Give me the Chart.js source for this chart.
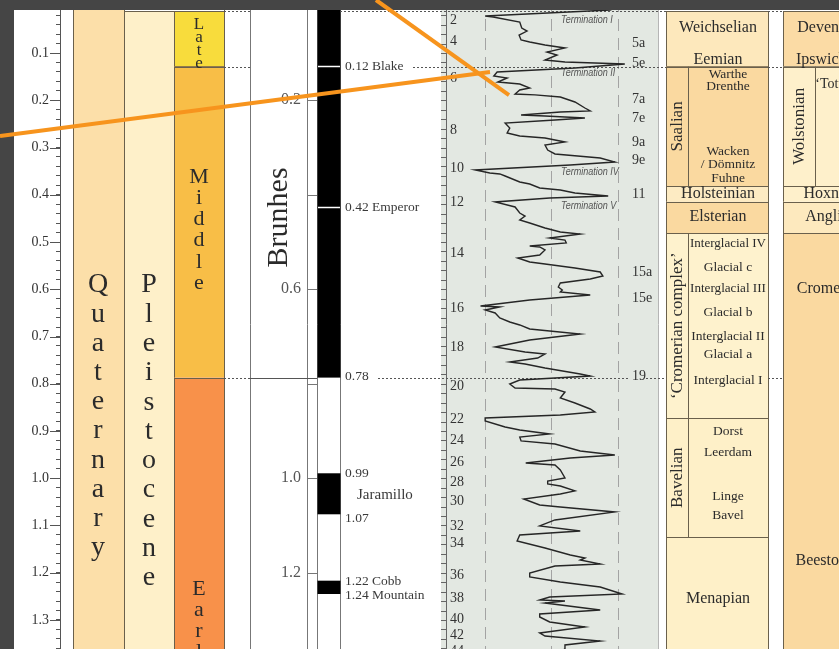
<!DOCTYPE html>
<html lang="en">
<head>
  <meta charset="UTF-8">
  <title>Middle and Early Pleistocene stratigraphy</title>
  <script src="https://cdn.jsdelivr.net/npm/chart.js"></script>
  <style>
    html, body { margin: 0; padding: 0; background: #454545; }
    canvas { display: block; }
  </style>
</head>
<body>
  <canvas id="strat" width="839" height="649"></canvas>
  <script>
    // ---- data (ages in Ma unless noted) ----
    const ageTop = -0.0122;
    const ageBottom = 1.3614;

    // Late / Middle / Early Pleistocene
    const subNames = ['Late', 'Middle', 'Early'];
    const subBounds = [0.0117, 0.129, 0.787, 1.8];

    // normal polarity intervals and excursions
    const normalTop = [ageTop, 0.9895, 1.2168];
    const normalBase = [0.787, 1.0763, 1.245];
    const excursionAges = [0.1269, 0.4265];
    const polNames = ['0.12 Blake', '0.42 Emperor', '0.78', '0.99', 'Jaramillo', '1.07', '1.22 Cobb', '1.24 Mountain'];
    const polNameAges = [0.129, 0.4266, 0.7836, 0.9895, 1.0354, 1.0848, 1.2175, 1.2486];
    const brunhesTicks = [0.2, 0.4, 0.6, 0.8, 1.0, 1.2];
    const brunhesTickLabels = ['0.2', '', '0.6', '', '1.0', '1.2'];

    // benthic d18O stack (age ka, per mil)
    const misAgeKa = [
      0, 9, 21.7, 23.8, 34.4, 47.1, 53.5, 61.9, 72.5, 76.7,
      83.1, 89.4, 97.9, 104.2, 114.8, 119.0, 123.3, 131.7, 140.2, 148.6,
      152.9, 161.4, 165.6, 174.1, 178.3, 186.8, 188.5, 193.1, 203.7, 216.4,
      222.7, 224.8, 231.2, 233.3, 237.5, 241.7, 248.1, 258.7, 269.3, 275.6,
      279.9, 288.3, 294.7, 305.3, 313.7, 322.2, 330.7, 337.0, 347.6, 353.9,
      356.0, 360.3, 373.0, 377.2, 385.7, 389.9, 396.3, 402.6, 406.9, 415.3,
      425.9, 438.6, 445.0, 453.4, 459.8, 470.4, 478.8, 483.1, 491.5, 495.8,
      502.1, 508.5, 510.6, 516.9, 527.5, 533.9, 542.3, 546.6, 555.0, 563.5,
      572.0, 578.3, 586.8, 595.2, 601.6, 605.8, 612.2, 622.7, 635.4, 637.5,
      643.9, 650.2, 660.8, 669.3, 675.6, 684.1, 688.3, 694.7, 707.4, 722.2,
      732.8, 737.0, 745.5, 754.0, 758.2, 766.7, 779.4, 783.6, 792.1, 800.5,
      809.0, 811.1, 817.5, 830.2, 840.7, 853.4, 859.8, 866.1, 872.5, 878.8,
      891.5, 897.9, 906.3, 912.7, 921.1, 927.5, 942.3, 950.8, 957.1, 967.7,
      971.9, 982.5, 999.4, 1005.8, 1012.1, 1016.4, 1026.9, 1033.3, 1043.9, 1056.6,
      1060.8, 1071.4, 1088.3, 1101.0, 1111.6, 1120.1, 1132.8, 1147.6, 1162.4, 1168.8,
      1173.0, 1181.5, 1185.7, 1200.5, 1209.0, 1219.6, 1230.2, 1245.0, 1251.3, 1257.7,
      1259.8, 1264.0, 1278.8, 1287.3, 1293.6, 1304.2, 1314.8, 1327.5, 1333.9, 1344.4,
      1352.9, 1361.3, 1370
    ];
    const misD18O = [
      2.96, 3.11, 4.99, 4.87, 4.47, 4.44, 4.36, 4.48, 4.45, 4.32,
      4.09, 3.79, 4.06, 3.91, 4.09, 3.79, 2.89, 3.64, 4.81, 4.86,
      4.66, 4.80, 4.47, 4.32, 4.47, 4.54, 4.24, 3.86, 3.64, 3.49,
      3.41, 3.86, 4.45, 4.09, 3.49, 3.94, 4.69, 4.62, 4.66, 4.47,
      4.09, 3.79, 4.09, 4.05, 3.94, 3.26, 3.04, 3.71, 5.14, 4.92,
      4.77, 4.69, 4.47, 4.32, 4.17, 3.86, 3.64, 3.14, 4.02, 4.84,
      4.54, 4.47, 4.39, 4.47, 4.32, 4.09, 3.86, 3.56, 4.02, 3.79,
      3.77, 4.32, 4.17, 4.09, 4.17, 4.50, 4.32, 4.09, 3.64, 3.26,
      3.22, 3.41, 3.86, 3.89, 3.83, 3.86, 3.41, 4.32, 5.06, 4.77,
      4.99, 4.84, 4.77, 4.62, 4.47, 4.32, 4.02, 3.56, 4.32, 4.84,
      4.39, 4.09, 4.20, 4.62, 4.39, 4.09, 3.56, 3.41, 4.47, 4.62,
      4.54, 3.94, 3.79, 3.86, 3.64, 3.41, 3.34, 3.86, 4.99, 4.99,
      4.69, 4.47, 4.02, 4.47, 4.45, 3.94, 3.56, 3.04, 3.71, 4.38,
      3.94, 3.86, 3.79, 4.05, 4.05, 3.86, 3.64, 3.86, 4.41, 4.17,
      3.86, 3.04, 3.94, 4.17, 3.56, 4.47, 4.51, 4.09, 3.71, 3.49,
      3.56, 3.26, 3.94, 4.32, 4.32, 3.86, 3.26, 2.93, 4.02, 4.17,
      3.79, 4.09, 3.26, 4.17, 4.17, 4.02, 3.49, 4.17, 4.09, 3.26,
      3.79, 3.79, 3.9
    ];
    const misGrid = [5, 4, 3];
    const misNumbers = [2, 4, 6, 8, 10, 12, 14, 16, 18, 20, 22, 24, 26, 28, 30, 32, 34, 36, 38, 40, 42, 44];
    const misNumberAges = [0.0302, 0.0761, 0.1529, 0.2630, 0.3434, 0.4153, 0.5233, 0.6397, 0.7222, 0.8048, 0.8746,
      0.9205, 0.9671, 1.0079, 1.0481, 1.1025, 1.1370, 1.2062, 1.2534, 1.2979, 1.3317, 1.3656];
    const substages = ['5a', '5e', '7a', '7e', '9a', '9e', '11', '15a', '15e', '19'];
    const substageAges = [0.0788, 0.1212, 0.1974, 0.2376, 0.2884, 0.3265, 0.3984, 0.5635, 0.6185, 0.7836];
    const terminations = ['Termination I', 'Termination II', 'Termination IV', 'Termination V'];
    const terminationAges = [0.0302, 0.1423, 0.3518, 0.4238];

    // NW European stages
    const nwTop = [0.0117, 0.129, 0.3815, 0.4147, 0.481, 0.873, 1.125];
    const nwBase = [0.129, 0.3815, 0.4147, 0.481, 0.873, 1.125, 1.45];
    const nwGroups = ['', 'Saalian', '', '', '\u2018Cromerian complex\u2019', 'Bavelian', ''];
    const nwNames = ['Weichselian', 'Eemian', 'Holsteinian', 'Elsterian', 'Menapian'];
    const nwNameAges = [0.0471, 0.1148, 0.3984, 0.4471, 1.2556];
    const nwSubNames = ['Warthe', 'Drenthe', 'Wacken', '/ D\u00f6mnitz', 'Fuhne', 'Interglacial IV', 'Glacial c',
      'Interglacial III', 'Glacial b', 'Interglacial II', 'Glacial a', 'Interglacial I', 'Dorst', 'Leerdam', 'Linge', 'Bavel'];
    const nwSubAges = [0.1444, 0.1698, 0.3074, 0.3349, 0.3645, 0.5021, 0.5529, 0.5973, 0.6481, 0.6989, 0.7370,
      0.7921, 0.9000, 0.9444, 1.0376, 1.0778];

    // British stages
    const brTop = [0.0117, 0.129, 0.3815, 0.4147, 0.481];
    const brBase = [0.129, 0.3815, 0.4147, 0.481, 1.45];
    const brGroups = ['', 'Wolstonian', '', '', ''];
    const brNames = ['Devensian', 'Ipswichian', 'Hoxnian', 'Anglian', 'Cromerian', 'Beestonian'];
    const brNameAges = [0.0471, 0.1148, 0.3984, 0.4471, 0.5995, 1.1751];
    const brSubNames = ['\u2018Tottenhill\u2019'];
    const brSubAges = [0.1656];

    // dotted correlation lines
    const correlationAges = [0.0117, 0.129, 0.787];

    // orange pointer lines drawn over the figure
    const pointerAges = [[0.2757, 0.1402], [ageTop, 0.1889]];

    // ---- layout and styles ----
    const L = {
      axis: 60, quat: [73, 124], pleist: [124, 174], sub: [174, 224],
      brun: [250, 307], tickCol: [307, 317], pol: [317, 340], polText: 345, polSub: 357,
      mis: [441, 658], misAxis: 446, misNum: 450, misSub: 632, misTerm: 561, misGridPx: [484.5, 617.5],
      nw: [666, 768], nwInner: 688, br: [783, 879], brInner: 815
    };
    const corrSpans = [
      [[224, 250], [340, 666], [768, 783]],
      [[224, 250], [413, 666], [768, 783]],
      [[224, 250], [378, 628], [646, 666], [768, 783]]
    ];
    const pointerX = [[0, 490], [376, 509]];
    const C = {
      dark: '#454545', line: '#6a604c', text: '#2b2b2b',
      quat: '#fcdfa9', pleist: '#fef0c9', mis: '#e3e8e2', orange: '#f7941d'
    };
    const subFill = ['#f8dc3c', '#f8be47', '#f8914a'];
    const nwFill = ['#fde8bc', '#fad9a0', '#fdebc3', '#fad9a0', '#fef2cd', '#fef0c8', '#fef0c8'];
    const brFill = ['#fbdba5', '#fef0cb', '#fef0cb', '#fde9be', '#fad9a0'];
    const SERIF = "'Liberation Serif', 'DejaVu Serif', serif";

    // xd scale: 5 per mil on the left dashed line, 3 per mil on the right one
    const ppu = (L.misGridPx[1] - L.misGridPx[0]) / 2;
    const xdMax = 5 + (L.misGridPx[0] - L.axis) / ppu;
    const xdMin = xdMax - (839 - L.axis) / ppu;

    function hline(ctx, x0, x1, y, color, dash, w) {
      ctx.save();
      ctx.strokeStyle = color; ctx.lineWidth = w || 1;
      ctx.setLineDash(dash || []);
      const yy = Math.round(y) + 0.5;
      ctx.beginPath(); ctx.moveTo(x0, yy); ctx.lineTo(x1, yy); ctx.stroke();
      ctx.restore();
    }
    function vline(ctx, x, y0, y1, color, dash) {
      ctx.save();
      ctx.strokeStyle = color; ctx.lineWidth = 1;
      ctx.setLineDash(dash || []);
      const xx = Math.round(x) + 0.5;
      ctx.beginPath(); ctx.moveTo(xx, y0); ctx.lineTo(xx, y1); ctx.stroke();
      ctx.restore();
    }
    function box(ctx, x0, x1, y0, y1, fill) {
      ctx.fillStyle = fill;
      ctx.fillRect(x0, y0, x1 - x0, y1 - y0);
      ctx.strokeStyle = C.line; ctx.lineWidth = 1;
      ctx.strokeRect(Math.round(x0) + 0.5, Math.round(y0) + 0.5, Math.round(x1 - x0), Math.round(y1 - y0));
    }
    function text(ctx, s, x, y, font, align, color, maxW) {
      ctx.font = font; ctx.textAlign = align || 'center'; ctx.textBaseline = 'middle';
      ctx.fillStyle = color || C.text;
      if (maxW) ctx.fillText(s, x, y, maxW); else ctx.fillText(s, x, y);
    }
    function stacked(ctx, word, x, y, step, font) {
      [...word].forEach((ch, i) => text(ctx, ch, x, y + i * step, font));
    }
    function rotated(ctx, s, x, y, font) {
      ctx.save();
      ctx.translate(x, y); ctx.rotate(-Math.PI / 2);
      text(ctx, s, 0, 0, font);
      ctx.restore();
    }

    function drawStageColumn(ctx, Y, col, inner, tops, bases, fills, groups) {
      tops.forEach((t, i) => {
        box(ctx, col[0], col[1], Y(t), Y(bases[i]), fills[i]);
        if (groups[i]) {
          vline(ctx, inner, Y(t), Y(bases[i]), C.line);
          rotated(ctx, groups[i], (col[0] + inner) / 2 + 1, Y((t + bases[i]) / 2), '17px ' + SERIF);
        }
      });
    }

    const timescale = {
      id: 'timescale',
      beforeDraw(chart) {
        const {ctx, width, height} = chart;
        ctx.save();
        ctx.fillStyle = C.dark; ctx.fillRect(0, 0, width, height);
        ctx.fillStyle = '#fff'; ctx.fillRect(14, 10, width - 14, height - 10);
        ctx.restore();
      },
      beforeDatasetsDraw(chart) {
        const {ctx, chartArea} = chart;
        const ys = chart.scales.y, xd = chart.scales.xd;
        const Y = a => ys.getPixelForValue(a);
        const top = chartArea.top, bottom = chartArea.bottom;
        ctx.save();

        // period, epoch and sub-epochs
        box(ctx, L.quat[0], L.quat[1], top - 2, bottom + 2, C.quat);
        box(ctx, L.pleist[0], L.pleist[1], Y(subBounds[0]), bottom + 2, C.pleist);
        box(ctx, L.pleist[0], L.sub[1], top - 2, Y(subBounds[0]), '#fff');
        text(ctx, 'Holocene', (L.pleist[0] + L.sub[1]) / 2, Y(0.001), '13px ' + SERIF);
        subNames.forEach((n, i) => box(ctx, L.sub[0], L.sub[1], Y(subBounds[i]), Y(subBounds[i + 1]), subFill[i]));
        stacked(ctx, 'Quaternary', 98, Y(0.591), 29.2, '28px ' + SERIF);
        stacked(ctx, 'Pleistocene', 149, Y(0.591), 29.3, '28px ' + SERIF);
        stacked(ctx, 'Late', 199, Y(0.0406), 12.7, '17px ' + SERIF);
        stacked(ctx, 'Middle', 199, Y(0.3624), 21.2, '22px ' + SERIF);
        stacked(ctx, 'Early', 199, Y(1.2344), 21, '22px ' + SERIF);

        // Brunhes / polarity
        [L.brun[0], L.brun[1], L.pol[0], L.pol[1]].forEach(x => vline(ctx, x, top, bottom, '#777'));
        hline(ctx, L.brun[0], L.pol[0], Y(normalBase[0]), '#555');
        ctx.fillStyle = '#000';
        normalTop.forEach((t, i) => ctx.fillRect(L.pol[0] + 0.5, Y(t), L.pol[1] - L.pol[0], Y(normalBase[i]) - Y(t)));
        excursionAges.forEach(a => hline(ctx, L.pol[0] + 1, L.pol[1], Y(a), '#fff', null, 1.5));
        brunhesTicks.forEach((a, i) => {
          hline(ctx, L.tickCol[0], L.tickCol[1], Y(a), '#777');
          if (brunhesTickLabels[i]) text(ctx, brunhesTickLabels[i], L.brun[1] - 6, Y(a), '16px ' + SERIF, 'right', '#555');
        });
        rotated(ctx, 'Brunhes', 279, Y(0.448), '30px ' + SERIF);
        polNames.forEach((n, i) => {
          const x = n === 'Jaramillo' ? L.polSub : L.polText;
          text(ctx, n, x, Y(polNameAges[i]), (n === 'Jaramillo' ? '15px ' : '13.5px ') + SERIF, 'left', '#3a3a3a');
        });

        // MIS column
        ctx.fillStyle = C.mis;
        ctx.fillRect(L.mis[0], top, L.mis[1] - L.mis[0], bottom - top);
        vline(ctx, L.mis[1], top, bottom, '#b5b5b5');
        misGrid.forEach(v => vline(ctx, xd.getPixelForValue(v), top, bottom, '#a3a3a3', [12, 7]));
        vline(ctx, L.misAxis, top, bottom, '#666');
        for (let k = 0; k <= 68; k++) hline(ctx, L.mis[0], L.misAxis, Y(k * 0.02), '#666');
        misNumbers.forEach((n, i) => text(ctx, String(n), L.misNum, Y(misNumberAges[i]), '14px ' + SERIF, 'left', '#333'));
        substages.forEach((n, i) => text(ctx, n, L.misSub, Y(substageAges[i]), '14px ' + SERIF, 'left', '#333'));
        const termFont = "italic 10.5px 'Liberation Sans', sans-serif";
        terminations.forEach((n, i) => {
          ctx.font = termFont;
          const w = ctx.measureText(n).width * 0.86;
          text(ctx, n, L.misTerm, Y(terminationAges[i]), termFont, 'left', '#555', w);
        });

        // regional stage columns
        drawStageColumn(ctx, Y, L.nw, L.nwInner, nwTop, nwBase, nwFill, nwGroups);
        drawStageColumn(ctx, Y, L.br, L.brInner, brTop, brBase, brFill, brGroups);
        const nwMid = (L.nw[0] + L.nw[1]) / 2, nwSubMid = (L.nwInner + L.nw[1]) / 2;
        nwNames.forEach((n, i) => text(ctx, n, nwMid + 1, Y(nwNameAges[i]), '16px ' + SERIF, 'center', C.text, 96));
        nwSubNames.forEach((n, i) => text(ctx, n, nwSubMid, Y(nwSubAges[i]), '13.5px ' + SERIF, 'center', C.text, 76));
        const brMid = (L.br[0] + L.br[1]) / 2, brSubMid = (L.brInner + L.br[1]) / 2;
        brNames.forEach((n, i) => text(ctx, n, brMid, Y(brNameAges[i]), '16px ' + SERIF));
        brSubNames.forEach((n, i) => text(ctx, n, brSubMid, Y(brSubAges[i]), '14px ' + SERIF));

        // dotted correlation lines
        correlationAges.forEach((a, i) => corrSpans[i].forEach(s => hline(ctx, s[0], s[1], Y(a), '#555', [2, 2])));
        ctx.restore();
      },
      afterDraw(chart) {
        const {ctx, width, height} = chart;
        const ys = chart.scales.y, xs = chart.scales.x;
        ctx.save();
        // longer ticks at every 0.1 Ma
        for (let k = 0; k <= 13; k++) hline(ctx, L.axis - 10, L.axis, ys.getPixelForValue(k / 10), '#555');
        ctx.fillStyle = C.dark;
        ctx.fillRect(0, 0, width, 10);
        ctx.fillRect(0, 0, 14, height);
        ctx.strokeStyle = C.orange; ctx.lineWidth = 4;
        pointerX.forEach((px, i) => {
          ctx.beginPath();
          ctx.moveTo(xs.getPixelForValue(px[0]), ys.getPixelForValue(pointerAges[i][0]));
          ctx.lineTo(xs.getPixelForValue(px[1]), ys.getPixelForValue(pointerAges[i][1]));
          ctx.stroke();
        });
        ctx.restore();
      }
    };

    new Chart(document.getElementById('strat'), {
      type: 'scatter',
      data: {
        datasets: [{
          label: 'benthic d18O',
          data: misAgeKa.map((a, i) => ({x: misD18O[i], y: a / 1000})),
          xAxisID: 'xd',
          yAxisID: 'y',
          showLine: true,
          borderColor: '#262626',
          borderWidth: 1.4,
          pointRadius: 0,
          tension: 0
        }]
      },
      options: {
        responsive: false,
        animation: false,
        devicePixelRatio: 1,
        layout: {padding: 0},
        plugins: {legend: {display: false}, tooltip: {enabled: false}},
        scales: {
          x: {type: 'linear', display: false, min: L.axis, max: 839},
          xd: {type: 'linear', display: false, reverse: true, min: xdMin, max: xdMax},
          y: {
            type: 'linear', position: 'left', reverse: true, min: ageTop, max: ageBottom,
            afterFit(s) { s.width = L.axis; s.paddingTop = 0; s.paddingBottom = 0; },
            border: {display: true, color: '#555', width: 1},
            grid: {drawOnChartArea: false, tickLength: 4, color: '#555'},
            ticks: {
              stepSize: 0.02, autoSkip: false, includeBounds: false, padding: 7, color: '#333',
              font: {family: 'Liberation Serif', size: 14},
              callback(v) {
                const t = Math.round(v * 10);
                if (Math.abs(v * 10 - t) > 1e-6) return '';
                return t === 0 ? '0' : (t / 10).toFixed(1);
              }
            }
          }
        }
      },
      plugins: [timescale]
    });
  </script>
</body>
</html>
